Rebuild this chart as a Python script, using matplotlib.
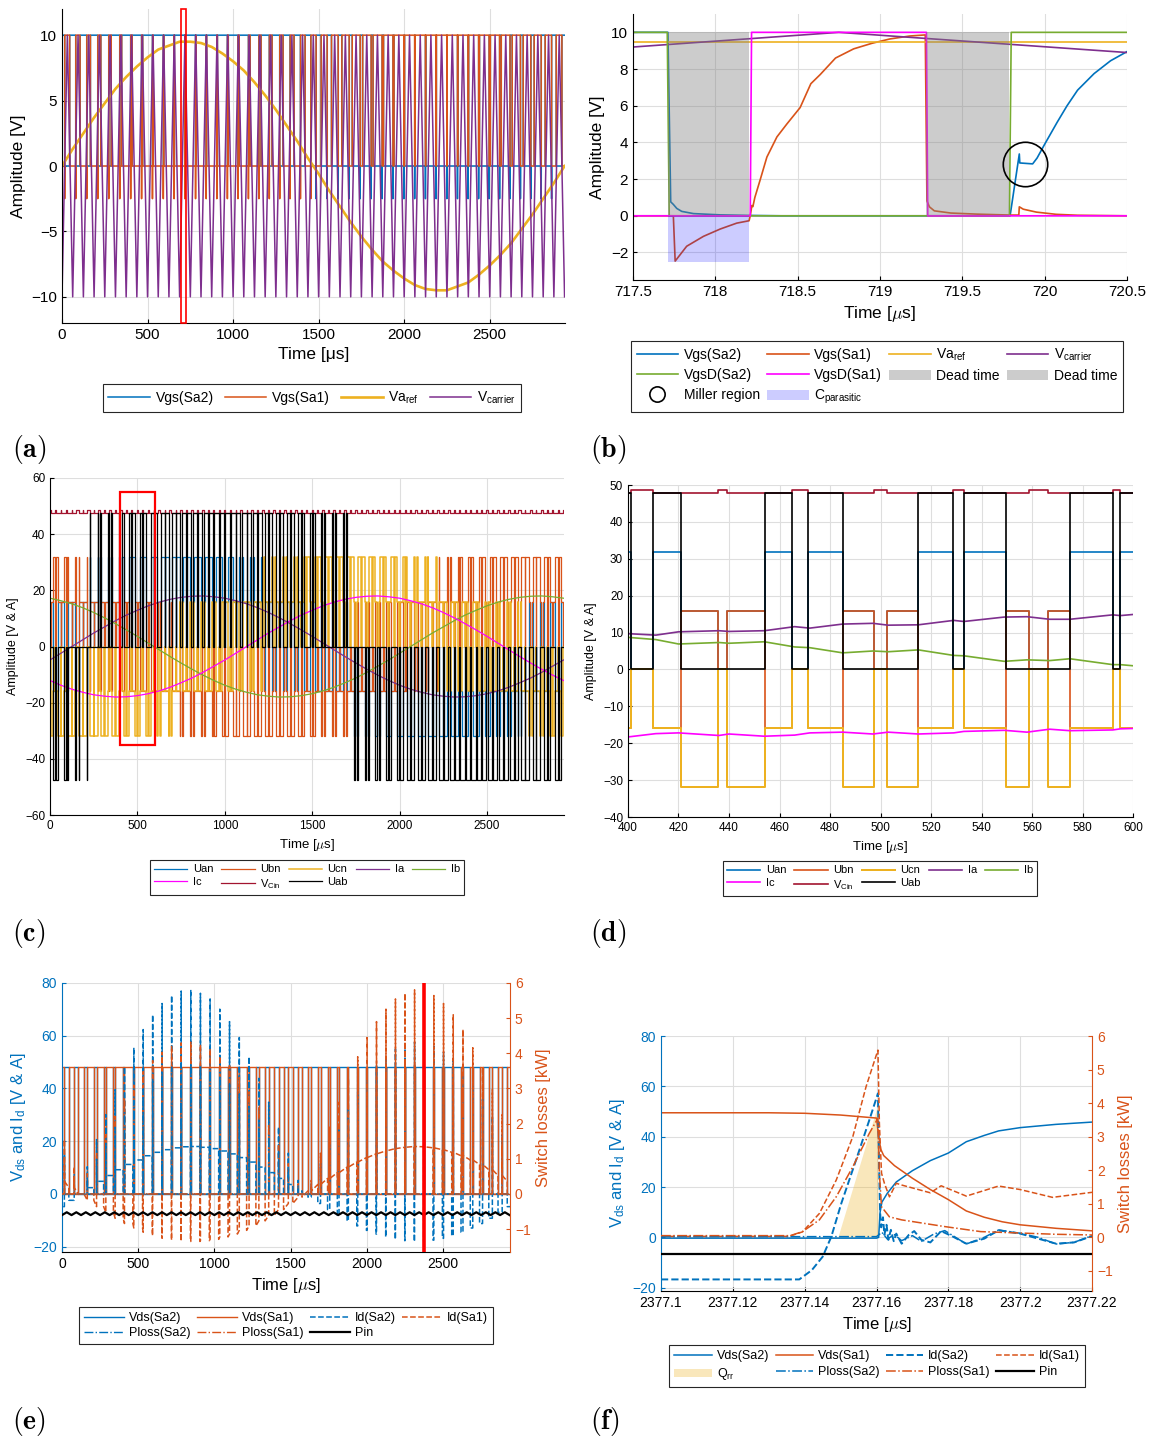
import numpy as np
import matplotlib.pyplot as plt
from matplotlib.patches import Rectangle, Patch, Polygon
from matplotlib.lines import Line2D

plt.rcParams['font.family'] = ['Liberation Sans', 'DejaVu Sans']
plt.rcParams['mathtext.fontset'] = 'custom'
plt.rcParams['mathtext.rm'] = 'Liberation Sans'
plt.rcParams['mathtext.it'] = 'Liberation Sans:italic'
plt.rcParams['mathtext.bf'] = 'Liberation Sans:bold'
plt.rcParams['axes.linewidth'] = 0.8
plt.rcParams['xtick.direction'] = 'in'
plt.rcParams['ytick.direction'] = 'in'
plt.rcParams['xtick.major.size'] = 3
plt.rcParams['ytick.major.size'] = 3

BLUE, ORANGE, YELLOW = '#0072BD', '#D95319', '#EDB120'
PURPLE, GREEN, MAGENTA, DARKRED = '#7E2F8E', '#77AC30', '#FF00FF', '#A2142F'

# ---------------- modulation data (one value per carrier period) ----------------
carrier_period = 62.5      # us
carrier_amp = 10.0         # V
t_end = 2940.0             # us

va_ref = [0, 1.3, 2.5, 3.7, 4.8, 5.9, 6.8, 7.6, 8.3, 8.9, 9.2, 9.5, 9.5, 9.4, 9.1, 8.6,
          8.0, 7.3, 6.4, 5.4, 4.3, 3.1, 1.9, 0.6, -0.6, -1.9, -3.1, -4.3, -5.4, -6.4, -7.3, -8.0,
          -8.6, -9.1, -9.4, -9.5, -9.5, -9.2, -8.9, -8.3, -7.6, -6.8, -5.9, -4.8, -3.7, -2.5, -1.3, 0]
vb_ref = [8.0, 7.3, 6.4, 5.4, 4.3, 3.1, 1.9, 0.6, -0.6, -1.9, -3.1, -4.3, -5.4, -6.4, -7.3, -8.0,
          -8.6, -9.1, -9.4, -9.5, -9.5, -9.2, -8.9, -8.3, -7.6, -6.8, -5.9, -4.8, -3.7, -2.5, -1.3, 0,
          1.3, 2.5, 3.7, 4.8, 5.9, 6.8, 7.6, 8.3, 8.9, 9.2, 9.5, 9.5, 9.4, 9.1, 8.6, 8.0]
vc_ref = [-8.0, -8.6, -9.1, -9.4, -9.5, -9.5, -9.2, -8.9, -8.3, -7.6, -6.8, -5.9, -4.8, -3.7, -2.5, -1.3,
          0, 1.3, 2.5, 3.7, 4.8, 5.9, 6.8, 7.6, 8.3, 8.9, 9.2, 9.5, 9.5, 9.4, 9.1, 8.6,
          8.0, 7.3, 6.4, 5.4, 4.3, 3.1, 1.9, 0.6, -0.6, -1.9, -3.1, -4.3, -5.4, -6.4, -7.3, -8.0]

ia = [-4.8, -2.4, 0, 2.4, 4.8, 7.0, 9.2, 11.2, 12.9, 14.5, 15.8, 16.8, 17.5, 17.9, 18.0, 17.7,
      17.2, 16.3, 15.2, 13.8, 12.1, 10.2, 8.1, 5.9, 3.6, 1.2, -1.2, -3.6, -5.9, -8.1, -10.2, -12.1,
      -13.8, -15.2, -16.3, -17.2, -17.7, -18.0, -17.9, -17.5, -16.8, -15.8, -14.5, -12.9, -11.2, -9.2, -7.0, -4.8]
ib = [17.2, 16.3, 15.2, 13.8, 12.1, 10.2, 8.1, 5.9, 3.6, 1.2, -1.2, -3.6, -5.9, -8.1, -10.2, -12.1,
      -13.8, -15.2, -16.3, -17.2, -17.7, -18.0, -17.9, -17.5, -16.8, -15.8, -14.5, -12.9, -11.2, -9.2, -7.0, -4.8,
      -2.4, 0, 2.4, 4.8, 7.0, 9.2, 11.2, 12.9, 14.5, 15.8, 16.8, 17.5, 17.9, 18.0, 17.7, 17.2]
ic = [-12.1, -13.8, -15.2, -16.3, -17.2, -17.7, -18.0, -17.9, -17.5, -16.8, -15.8, -14.5, -12.9, -11.2, -9.2, -7.0,
      -4.8, -2.4, 0, 2.4, 4.8, 7.0, 9.2, 11.2, 12.9, 14.5, 15.8, 16.8, 17.5, 17.9, 18.0, 17.7,
      17.2, 16.3, 15.2, 13.8, 12.1, 10.2, 8.1, 5.9, 3.6, 1.2, -1.2, -3.6, -5.9, -8.1, -10.2, -12.1]

vcin_lo, vcin_hi = 47.7, 48.7     # DC link during active / zero vectors
miller_dip = -2.5                 # gate spike seen in (a)

# ---------------- (b) gate detail 717.5 - 720.5 us ----------------
b_t_sa2 = [717.5, 717.712, 717.729, 717.745, 717.766, 717.796, 717.867, 718.03, 718.2, 718.4, 719.79,
           719.846, 719.849, 719.927, 719.954, 720.0, 720.076, 720.136, 720.2, 720.3, 720.4, 720.5]
b_v_sa2 = [10, 10, 0.76, 0.62, 0.4, 0.24, 0.12, 0.05, 0.02, 0.0, 0.0,
           3.37, 2.88, 2.83, 3.15, 3.9, 5.1, 6.0, 6.85, 7.75, 8.45, 8.95]
b_t_sa1 = [717.5, 717.745, 717.756, 717.826, 717.928, 718.03, 718.13, 718.205, 718.212, 718.222, 718.228,
           718.24, 718.272, 718.313, 718.374, 718.434, 718.515, 718.58, 718.637, 718.73, 718.84, 718.95,
           719.06, 719.18, 719.275, 719.285, 719.3, 719.33, 719.43, 719.59, 719.79, 719.843, 719.846,
           719.87, 719.95, 720.07, 720.2, 720.5]
b_v_sa1 = [0, 0, -2.47, -1.66, -1.12, -0.72, -0.40, -0.27, 0.0, 0.56, 0.5,
           1.0, 1.95, 3.2, 4.3, 5.0, 5.9, 7.2, 7.7, 8.6, 9.1, 9.4,
           9.64, 9.8, 9.86, 0.81, 0.49, 0.27, 0.15, 0.09, 0.04, 0.04, 0.49,
           0.36, 0.2, 0.08, 0.03, 0.0]
b_t_gd2 = [717.5, 717.708, 717.72, 719.786, 719.797, 720.5]
b_v_gd2 = [10, 10, 0, 0, 10, 10]
b_t_gd1 = [717.5, 718.212, 718.22, 719.282, 719.29, 720.5]
b_v_gd1 = [0, 0, 10, 10, 0, 0]
b_t_ref, b_v_ref = [717.5, 720.5], [9.5, 9.5]
b_t_car, b_v_car = [717.5, 718.75, 720.5], [9.2, 10.0, 8.9]
b_dead = [(717.715, 718.205), (719.282, 719.786)]
b_cpar = (717.715, 718.205, -2.5)
b_miller = (719.879, 2.8)

# ---------------- (d) currents 400 - 600 us ----------------
d_t = [400, 411, 420, 436, 440, 454, 466, 472, 485, 497, 503, 515, 529, 533, 549, 558, 567, 575, 592, 595, 600]
d_ia = [9.7, 9.3, 10.2, 10.5, 10.3, 10.5, 11.6, 11.2, 12.3, 12.5, 12.0, 12.1, 13.3, 13.0, 14.2, 14.3, 13.6,
        13.6, 14.8, 14.6, 14.9]
d_ib = [8.7, 8.1, 6.9, 7.3, 7.1, 7.5, 6.1, 5.9, 4.5, 5.0, 4.8, 5.3, 3.8, 3.7, 2.2, 2.6, 2.4, 2.9, 1.3, 1.3, 1.0]
d_ic = [-18.3, -17.4, -17.2, -17.9, -17.5, -18.1, -17.8, -17.2, -17.0, -17.5, -17.0, -17.5, -17.2, -16.8,
        -16.5, -17.0, -16.2, -16.6, -16.4, -16.1, -16.0]

# ---------------- (e) device quantities ----------------
vdc_e = 48.0
gain_peak = 4.3     # turn-on current overshoot / load current (read from f)
gain_rr = 3.2       # recovery current / load current (read from f)
spike_w = 1.0       # us
pin_levels = [-0.60, -0.52]   # kW, at carrier minima / peaks
e_marker_t = 2377.0

# ---------------- (f) commutation 2377.1 - 2377.22 us ----------------
f_t_vds2 = [2377.1, 2377.16, 2377.1606, 2377.161, 2377.1615, 2377.163, 2377.1655, 2377.17, 2377.175,
            2377.18, 2377.185, 2377.19, 2377.194, 2377.2, 2377.21, 2377.22]
f_v_vds2 = [-0.3, -0.3, 0, 10, 14, 17.5, 22, 26.5, 30.5, 33.5, 38, 40.5, 42.3, 43.6, 44.9, 45.8]
f_t_vds1 = [2377.1, 2377.13, 2377.14, 2377.15, 2377.16, 2377.1606, 2377.1612, 2377.162, 2377.165, 2377.17,
            2377.175, 2377.18, 2377.185, 2377.19, 2377.195, 2377.2, 2377.21, 2377.22]
f_v_vds1 = [49.5, 49.5, 49.3, 48.6, 47.4, 40, 35, 32.5, 28.5, 23.5, 19, 15, 10.5, 8, 6.2, 5, 3.6, 2.6]
f_t_id2 = [2377.1, 2377.1385, 2377.142, 2377.145, 2377.1474, 2377.1502, 2377.1543, 2377.158, 2377.1604,
           2377.1607, 2377.161, 2377.1613, 2377.1618, 2377.1622, 2377.1628, 2377.1633, 2377.164, 2377.1648,
           2377.1655, 2377.167, 2377.169, 2377.1705, 2377.1725, 2377.175, 2377.178, 2377.181, 2377.185,
           2377.19, 2377.194, 2377.2, 2377.205, 2377.21, 2377.215, 2377.22]
f_v_id2 = [-16.7, -16.7, -13, -7.7, 0.2, 13.5, 30.7, 46.6, 57.2,
           30, 10, 4, 8, 1, 5, -1, 3, -1.5,
           1.5, -2.5, 1, 2.5, -1, -2, 2.5, 0.5, -2.5,
           -0.5, 2.8, 1.5, -0.5, -2.5, -2, 0.5]
f_t_id1 = [2377.1, 2377.1357, 2377.1394, 2377.1441, 2377.1488, 2377.1534, 2377.1571, 2377.1604, 2377.1608,
           2377.1614, 2377.1622, 2377.1636, 2377.1655, 2377.167, 2377.175, 2377.178, 2377.185, 2377.194,
           2377.2, 2377.209, 2377.22]
f_v_id1 = [0.4, 0.4, 2.2, 9.5, 22.8, 40, 59.9, 74.4, 45.3,
           25.5, 21.5, 16.1, 21.5, 20.8, 17.7, 20.5, 16.4, 20.4,
           19, 15.9, 17.9]
f_t_p1 = [2377.1, 2377.136, 2377.1394, 2377.1441, 2377.1488, 2377.1534, 2377.158, 2377.1604, 2377.1608,
          2377.1614, 2377.1636, 2377.167, 2377.179, 2377.189, 2377.21, 2377.22]
f_v_p1 = [0.05, 0.05, 0.17, 0.52, 1.21, 2.1, 3.1, 3.55, 1.9, 0.91, 0.61, 0.52, 0.32, 0.17, 0.09, 0.07]
f_t_p2 = [2377.1, 2377.16, 2377.1615, 2377.163, 2377.165, 2377.167, 2377.17, 2377.1725, 2377.176, 2377.179,
          2377.185, 2377.19, 2377.194, 2377.2, 2377.205, 2377.21, 2377.215, 2377.22]
f_v_p2 = [0.02, 0.02, 0.15, -0.05, 0.08, -0.1, 0.05, -0.12, 0.1, 0.2, -0.2, 0.0, 0.22, 0.12, 0.0, -0.2, -0.15, 0.05]
f_pin = -0.5
f_qrr_t = [2377.1494, 2377.1604, 2377.1606]
f_qrr_v = [0, 52, 0]


# ---------------- helpers ----------------
def switch_windows(ref):
    # upper switch on while ref > carrier, regular sampled around each carrier minimum
    ref = np.asarray(ref, dtype=float)
    tk = np.arange(len(ref)) * carrier_period
    hw = carrier_period * (1 + ref / carrier_amp) / 4
    return tk - hw, tk + hw


def leg_state(ref, t):
    ref = np.asarray(ref, dtype=float)
    k = np.clip(np.rint(t / carrier_period).astype(int), 0, len(ref) - 1)
    hw = carrier_period * (1 + ref[k] / carrier_amp) / 4
    return (np.abs(t - k * carrier_period) < hw).astype(float)


def style_axes(ax, fs):
    ax.grid(True, color='#dedede', linewidth=0.8)
    ax.spines['top'].set_visible(False)
    ax.spines['right'].set_visible(False)
    ax.tick_params(labelsize=fs)


def legend(ax, handles, labels, ncol, cx, top, fs, **kw):
    lg = ax.legend(handles, labels, ncol=ncol, loc='upper center', bbox_to_anchor=(cx, top),
                   bbox_transform=fig.transFigure, fontsize=fs, frameon=True, fancybox=False,
                   edgecolor='#262626', framealpha=1, borderaxespad=0, **kw)
    lg.get_frame().set_linewidth(0.8)
    return lg


fig = plt.figure(figsize=(11.53, 14.43), dpi=100)
W, H = 1153.0, 1443.0


def axes_px(x0, y0, x1, y1):
    return fig.add_axes([x0 / W, 1 - y1 / H, (x1 - x0) / W, (y1 - y0) / H])


def panel_label(x, y, s):
    fig.text(x / W, 1 - y / H, r'$\mathbf{(%s)}$' % s, math_fontfamily='cm', fontsize=20, va='center')


mu_label = r'Time [$\mu$s]'

# ================= (a) =================
ax = axes_px(62, 9, 565, 323)
s, e = switch_windows(va_ref)
t2, v2, t1, v1 = [], [], [], []
for sk, ek, r in zip(s, e, va_ref):
    if r < 0:
        t2 += [sk, sk + 0.1, sk + 0.6, sk + 0.6]
        v2 += [0, miller_dip, 0, 10]
    else:
        t2 += [sk, sk]
        v2 += [0, 10]
    t2 += [ek, ek]
    v2 += [10, 0]
    t1 += [sk, sk]
    v1 += [10, 0]
    if r >= 0:
        t1 += [ek, ek + 0.1, ek + 0.6, ek + 0.6]
        v1 += [0, miller_dip, 0, 10]
    else:
        t1 += [ek, ek]
        v1 += [0, 10]
tref = np.arange(len(va_ref)) * carrier_period
car_t = np.arange(2 * len(va_ref) - 1) * carrier_period / 2
car_v = np.where(np.arange(len(car_t)) % 2 == 0, -carrier_amp, carrier_amp)
la1, = ax.plot(t2, v2, color=BLUE, lw=1.1)
la2, = ax.plot(t1, v1, color=ORANGE, lw=1.1)
la3, = ax.plot(tref, va_ref, color=YELLOW, lw=1.9)
la4, = ax.plot(car_t, car_v, color=PURPLE, lw=1.1)
ax.add_patch(Rectangle((698, -12), 26, 24, fill=False, edgecolor='red', lw=1.2, zorder=5, clip_on=False))
ax.set_xlim(0, t_end)
ax.set_ylim(-12, 12)
ax.set_yticks([-10, -5, 0, 5, 10])
ax.set_xticks([0, 500, 1000, 1500, 2000, 2500])
style_axes(ax, 11)
ax.set_xlabel('Time [μs]', fontsize=12.5)
ax.set_ylabel('Amplitude [V]', fontsize=12.5)
legend(ax, [la1, la2, la3, la4], ['Vgs(Sa2)', 'Vgs(Sa1)', 'Va$_{\\mathrm{ref}}$', 'V$_{\\mathrm{carrier}}$'],
       4, 312 / W, 1 - 384 / H, 10, handlelength=3.0, columnspacing=0.8, handletextpad=0.4)
panel_label(12, 450, 'a')

# ================= (b) =================
ax = axes_px(633, 14, 1127, 280)
lb1, = ax.plot(b_t_sa2, b_v_sa2, color=BLUE, lw=1.2)
lb2, = ax.plot(b_t_sa1, b_v_sa1, color=ORANGE, lw=1.2)
lb3, = ax.plot(b_t_ref, b_v_ref, color=YELLOW, lw=1.2)
lb4, = ax.plot(b_t_car, b_v_car, color=PURPLE, lw=1.2)
lb5, = ax.plot(b_t_gd2, b_v_gd2, color=GREEN, lw=1.2)
lb6, = ax.plot(b_t_gd1, b_v_gd1, color=MAGENTA, lw=1.2)
for t0, t1_ in b_dead:
    ax.add_patch(Rectangle((t0, 0), t1_ - t0, 10, facecolor='#808080', alpha=0.4, edgecolor='none', zorder=3))
ax.add_patch(Rectangle((b_cpar[0], b_cpar[2]), b_cpar[1] - b_cpar[0], -b_cpar[2],
                       facecolor='#0000ff', alpha=0.2, edgecolor='none', zorder=3))
ax.plot([b_miller[0]], [b_miller[1]], 'o', ms=32, mfc='none', mec='black', mew=1.2, zorder=4)
ax.set_xlim(717.5, 720.5)
ax.set_ylim(-3.5, 11)
ax.set_xticks([717.5, 718, 718.5, 719, 719.5, 720, 720.5])
ax.set_xticklabels(['717.5', '718', '718.5', '719', '719.5', '720', '720.5'])
ax.set_yticks([-2, 0, 2, 4, 6, 8, 10])
style_axes(ax, 11)
ax.set_xlabel(mu_label, fontsize=12.5, math_fontfamily='cm')
ax.set_ylabel('Amplitude [V]', fontsize=12.5)
p_dead = Patch(facecolor='#808080', alpha=0.4, edgecolor='none')
p_cpar = Patch(facecolor='#0000ff', alpha=0.2, edgecolor='none')
h_mill = Line2D([], [], marker='o', ls='none', ms=11, mfc='none', mec='black', mew=1.2)
legend(ax, [lb1, lb5, h_mill, lb2, lb6, p_cpar, lb3, p_dead, lb4, p_dead],
       ['Vgs(Sa2)', 'VgsD(Sa2)', 'Miller region', 'Vgs(Sa1)', 'VgsD(Sa1)', 'C$_{\\mathrm{parasitic}}$',
        'Va$_{\\mathrm{ref}}$', 'Dead time', 'V$_{\\mathrm{carrier}}$', 'Dead time'],
       4, 877 / W, 1 - 341 / H, 10, handlelength=3.0, columnspacing=0.5, handletextpad=0.4,
       labelspacing=0.45)
panel_label(590, 450, 'b')

# ================= (c) & (d) common switching =================
sa_s, sa_e = switch_windows(va_ref)
sb_s, sb_e = switch_windows(vb_ref)
sc_s, sc_e = switch_windows(vc_ref)
edges = np.unique(np.clip(np.concatenate([sa_s, sa_e, sb_s, sb_e, sc_s, sc_e, [0, t_end]]), 0, t_end))
mid = 0.5 * (edges[:-1] + edges[1:])
sa, sb, sc = leg_state(va_ref, mid), leg_state(vb_ref, mid), leg_state(vc_ref, mid)
zero = (sa == sb) & (sb == sc)
vcin = np.where(zero, vcin_hi, vcin_lo)
uan = vcin * (2 * sa - sb - sc) / 3
ubn = vcin * (2 * sb - sa - sc) / 3
ucn = vcin * (2 * sc - sa - sb) / 3
uab = vcin * (sa - sb)


def st(v):
    return np.append(v, v[-1])


def draw_three_phase(ax, t_cur, cur_a, cur_b, cur_c, lw):
    hs = []
    hs.append(ax.plot(edges, st(uan), drawstyle='steps-post', color=BLUE, lw=lw)[0])
    hs.append(ax.plot(edges, st(ubn), drawstyle='steps-post', color=ORANGE, lw=lw)[0])
    hs.append(ax.plot(edges, st(ucn), drawstyle='steps-post', color=YELLOW, lw=lw * 1.2)[0])
    hs.append(ax.plot(t_cur, cur_a, color=PURPLE, lw=lw)[0])
    hs.append(ax.plot(t_cur, cur_b, color=GREEN, lw=lw)[0])
    hs.append(ax.plot(t_cur, cur_c, color=MAGENTA, lw=lw)[0])
    hs.append(ax.plot(edges, st(vcin), drawstyle='steps-post', color=DARKRED, lw=lw)[0])
    hs.append(ax.plot(edges, st(uab), drawstyle='steps-post', color='black', lw=lw)[0])
    return hs


def three_phase_legend(ax, hs, cx, top):
    order = [0, 5, 1, 6, 2, 7, 3, 4]
    names = ['Uan', 'Ubn', 'Ucn', 'Ia', 'Ib', 'Ic', 'V$_{\\mathrm{Cin}}$', 'Uab']
    legend(ax, [hs[i] for i in order], [names[i] for i in order], 5, cx, top, 8,
           handlelength=3.0, columnspacing=0.7, handletextpad=0.5, labelspacing=0.25)


# ================= (c) =================
ax = axes_px(50, 478, 564, 815)
hs = draw_three_phase(ax, tref, ia, ib, ic, 0.9)
ax.add_patch(Rectangle((400, -35), 200, 90, fill=False, edgecolor='red', lw=1.6, zorder=5))
ax.set_xlim(0, t_end)
ax.set_ylim(-60, 60)
ax.set_yticks([-60, -40, -20, 0, 20, 40, 60])
ax.set_xticks([0, 500, 1000, 1500, 2000, 2500])
style_axes(ax, 8.5)
ax.set_xlabel(mu_label, fontsize=9.5, math_fontfamily='cm')
ax.set_ylabel('Amplitude [V & A]', fontsize=9)
three_phase_legend(ax, hs, 307 / W, 1 - 860 / H)
panel_label(12, 934, 'c')

# ================= (d) =================
ax = axes_px(628, 485, 1133, 817)
hs = draw_three_phase(ax, d_t, d_ia, d_ib, d_ic, 1.2)
ax.set_xlim(400, 600)
ax.set_ylim(-40, 50)
ax.set_yticks(np.arange(-40, 51, 10))
ax.set_xticks(np.arange(400, 601, 20))
style_axes(ax, 8.5)
ax.set_xlabel(mu_label, fontsize=9.5, math_fontfamily='cm')
ax.set_ylabel('Amplitude [V & A]', fontsize=9)
three_phase_legend(ax, hs, 880 / W, 1 - 861 / H)
panel_label(590, 934, 'd')


# ================= (e) =================
def twin_style(ax, ax2, fs):
    ax.grid(True, color='#dedede', linewidth=0.8)
    for sp in ['top', 'right']:
        ax.spines[sp].set_visible(False)
    for sp in ['top', 'left', 'bottom']:
        ax2.spines[sp].set_visible(False)
    ax.spines['left'].set_color(BLUE)
    ax2.spines['right'].set_color(ORANGE)
    ax.tick_params(axis='y', colors=BLUE, labelsize=fs)
    ax.tick_params(axis='x', labelsize=fs)
    ax2.tick_params(axis='y', colors=ORANGE, labelsize=fs)


ax = axes_px(62, 983, 510, 1252)
ax2 = ax.twinx()
vds2_t, vds2_v = [], []
id2_t, id2_v, id1_t, id1_v = [], [], [], []
p2_t, p2_v, p1_t, p1_v = [0.0], [0.0], [0.0], [0.0]
for sk, ek, i in zip(sa_s, sa_e, ia):
    vds2_t += [sk, sk, ek, ek]
    vds2_v += [vdc_e, 0, 0, vdc_e]
    if i >= 0:
        id2_t += [sk, sk, sk + spike_w, ek, ek]
        id2_v += [0, gain_peak * i, i, i, 0]
        id1_t += [sk, sk, sk + spike_w, ek, ek]
        id1_v += [-i, gain_rr * i, 0, 0, -i]
        p2_t += [sk, sk, sk + spike_w]
        p2_v += [0, vdc_e * gain_peak * i / 1000, 0]
    else:
        a = -i
        id2_t += [sk, sk, ek, ek, ek + spike_w]
        id2_v += [0, i, i, gain_rr * a, 0]
        id1_t += [sk, sk, ek, ek, ek + spike_w]
        id1_v += [a, 0, 0, gain_peak * a, a]
        p1_t += [ek, ek, ek + spike_w]
        p1_v += [0, vdc_e * gain_peak * a / 1000, 0]
p2_t.append(t_end); p2_v.append(0.0)
p1_t.append(t_end); p1_v.append(0.0)
vds1_v = vdc_e - np.array(vds2_v)
le1, = ax.plot(vds2_t, vds2_v, color=BLUE, lw=1.0)
le2, = ax.plot(vds2_t, vds1_v, color=ORANGE, lw=1.0)
le3, = ax.plot(id2_t, id2_v, color=BLUE, lw=1.1, ls='--')
le4, = ax.plot(id1_t, id1_v, color=ORANGE, lw=1.1, ls='--')
le5, = ax2.plot(p2_t, p2_v, color=BLUE, lw=1.0, ls='-.')
le6, = ax2.plot(p1_t, p1_v, color=ORANGE, lw=1.0, ls='-.')
pin_v = np.where(np.arange(len(car_t)) % 2 == 0, pin_levels[0], pin_levels[1])
le7, = ax2.plot(car_t, pin_v, color='black', lw=1.6)
ax2.axvline(e_marker_t, color='red', lw=2.6)
ax.set_xlim(0, t_end)
ax.set_ylim(-22, 80)
ax2.set_ylim(-1.65, 6)
ax.set_yticks([-20, 0, 20, 40, 60, 80])
ax2.set_yticks([-1, 0, 1, 2, 3, 4, 5, 6])
ax.set_xticks([0, 500, 1000, 1500, 2000, 2500])
twin_style(ax, ax2, 10)
ax.set_xlabel(mu_label, fontsize=12, math_fontfamily='cm')
ax.set_ylabel('V$_{\\mathrm{ds}}$ and I$_{\\mathrm{d}}$ [V & A]', fontsize=12, color=BLUE)
ax2.set_ylabel('Switch losses [kW]', fontsize=12, color=ORANGE)
legend(ax, [le1, le5, le2, le6, le3, le7, le4],
       ['Vds(Sa2)', 'Ploss(Sa2)', 'Vds(Sa1)', 'Ploss(Sa1)', 'Id(Sa2)', 'Pin', 'Id(Sa1)'],
       4, 286 / W, 1 - 1307 / H, 9, handlelength=3.2, columnspacing=0.5, handletextpad=0.4,
       labelspacing=0.25)
panel_label(12, 1422, 'e')

# ================= (f) =================
ax = axes_px(661, 1036, 1092, 1291)
ax2 = ax.twinx()
lf1, = ax.plot(f_t_vds2, f_v_vds2, color=BLUE, lw=1.1)
lf2, = ax.plot(f_t_vds1, f_v_vds1, color=ORANGE, lw=1.1)
lf3, = ax.plot(f_t_id2, f_v_id2, color=BLUE, lw=1.4, ls='--')
lf4, = ax.plot(f_t_id1, f_v_id1, color=ORANGE, lw=1.1, ls='--')
qrr = Polygon(np.column_stack([f_qrr_t, f_qrr_v]), closed=True, facecolor=YELLOW, alpha=0.3,
              edgecolor='none', zorder=1.8)
ax.add_patch(qrr)
lf6, = ax2.plot(f_t_p2, f_v_p2, color=BLUE, lw=1.1, ls='-.')
lf7, = ax2.plot(f_t_p1, f_v_p1, color=ORANGE, lw=1.1, ls='-.')
lf8, = ax2.plot([2377.1, 2377.22], [f_pin, f_pin], color='black', lw=1.6)
ax.set_xlim(2377.1, 2377.22)
ax.set_ylim(-21.3, 80)
ax2.set_ylim(-1.6, 6)
ax.set_yticks([-20, 0, 20, 40, 60, 80])
ax2.set_yticks([-1, 0, 1, 2, 3, 4, 5, 6])
fx = [2377.1, 2377.12, 2377.14, 2377.16, 2377.18, 2377.2, 2377.22]
ax.set_xticks(fx)
ax.set_xticklabels(['2377.1', '2377.12', '2377.14', '2377.16', '2377.18', '2377.2', '2377.22'])
twin_style(ax, ax2, 10)
ax.set_xlabel(mu_label, fontsize=12, math_fontfamily='cm')
ax.set_ylabel('V$_{\\mathrm{ds}}$ and I$_{\\mathrm{d}}$ [V & A]', fontsize=12, color=BLUE)
ax2.set_ylabel('Switch losses [kW]', fontsize=12, color=ORANGE)
p_qrr = Patch(facecolor=YELLOW, alpha=0.3, edgecolor='none')
legend(ax, [lf1, p_qrr, lf2, lf6, lf3, lf7, lf4, lf8],
       ['Vds(Sa2)', 'Q$_{\\mathrm{rr}}$', 'Vds(Sa1)', 'Ploss(Sa2)', 'Id(Sa2)', 'Ploss(Sa1)', 'Id(Sa1)', 'Pin'],
       4, 877 / W, 1 - 1345 / H, 9, handlelength=3.0, columnspacing=0.5, handletextpad=0.4,
       labelspacing=0.35)
panel_label(590, 1422, 'f')

fig.savefig('out.png', dpi=100)
